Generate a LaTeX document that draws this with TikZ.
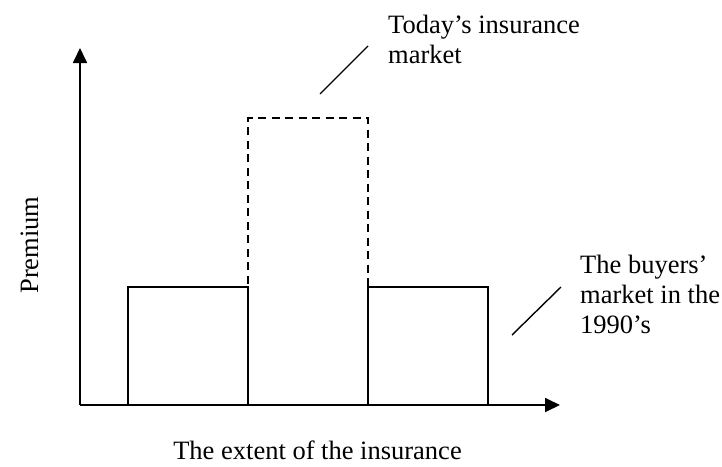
\documentclass[tikz,border=0pt]{standalone}
\usepackage{fontspec}
\setmainfont{Liberation Serif}
\usetikzlibrary{arrows.meta}
\begin{document}
\begin{tikzpicture}[x=1pt,y=-1pt,
  axis/.style={line width=1.8pt,-{Triangle[length=15pt,width=14pt]}},
  bar/.style={line width=1.8pt},
  hotbar/.style={line width=1.6pt,dash pattern=on 8pt off 5.5pt},
  leader/.style={line width=1.4pt},
  lbl/.style={inner sep=0pt,font=\fontsize{26.5}{29.8}\selectfont,align=left}]
\useasboundingbox (0,0) rectangle (722,466);
% axes
\coordinate (O) at (80,405);
\coordinate (ytop) at (80,48);
\coordinate (xend) at (560,405);
% bars
\coordinate (a1) at (128,405); \coordinate (a2) at (248,287);
\coordinate (b1) at (248,405); \coordinate (b2) at (368,118);
\coordinate (c1) at (368,405); \coordinate (c2) at (488,287);
\draw[bar] (a1) |- (a2) -- (b1);
\draw[bar] (c1) |- (c2) -- (c2 |- c1);
\draw[hotbar] (b1) -- (b1 |- b2) -- (b2) -- (c1) -- cycle;
\draw[axis] (O) -- (ytop);
\draw[axis] (O) -- (xend);
% labels
\node[lbl,anchor=north west] (today) at (388,15) {Today’s insurance\\market};
\node[lbl,anchor=north west] (buyers) at (580,255) {The buyers’\\market in the\\1990’s};
\node[lbl,anchor=base] (xlab) at (317.5,459) {The extent of the insurance};
\node[lbl,anchor=base,rotate=90] (ylab) at (38,245) {Premium};
% leader lines
\coordinate (t1) at (320,94); \coordinate (t2) at (368,46);
\coordinate (u1) at (512,335); \coordinate (u2) at (561,287);
\draw[leader] (t1) -- (t2);
\draw[leader] (u1) -- (u2);
\end{tikzpicture}
\end{document}
